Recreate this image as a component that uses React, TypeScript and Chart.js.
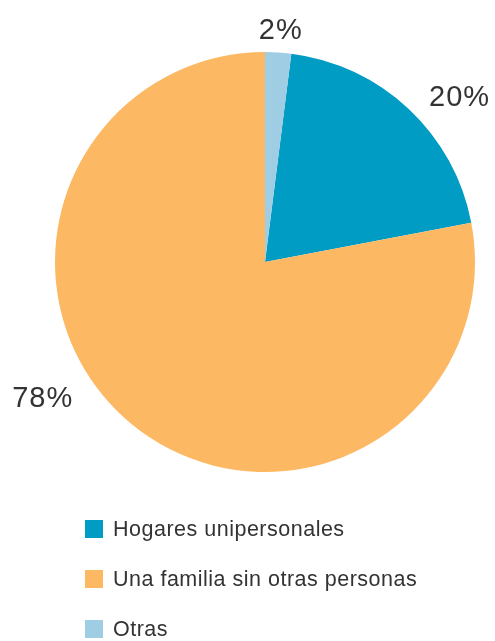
import React, { useEffect, useRef } from "react";
import { Chart, registerables } from "chart.js";

Chart.register(...registerables);

// Data (clockwise order starting just after the top)
const categories = ["Hogares unipersonales", "Una familia sin otras personas", "Otras"];
const values = [20, 78, 2];
const colors = ["#009CC4", "#FDB863", "#9FCDE3"];
const pctLabels = ["20%", "78%", "2%"];

// label placement: angle shift (deg) from slice middle, and distance as factor of radius
const labelShift = [6.5, 19, 0.3];
const labelDist = [1.215, 1.24, 1.105];

const pctPlugin = {
  id: "pctLabels",
  afterDraw(chart: any) {
    const ctx = chart.ctx;
    const meta = chart.getDatasetMeta(0);
    ctx.save();
    ctx.font = '29px "Liberation Sans", Arial, sans-serif';
    try { (ctx as any).letterSpacing = "1px"; } catch (e) {}
    ctx.fillStyle = "#333333";
    ctx.textAlign = "center";
    ctx.textBaseline = "middle";
    meta.data.forEach((arc: any, i: number) => {
      const mid = (arc.startAngle + arc.endAngle) / 2 + (labelShift[i] * Math.PI) / 180;
      const r = arc.outerRadius * labelDist[i];
      const x = arc.x + Math.cos(mid) * r;
      const y = arc.y + Math.sin(mid) * r + 1;
      ctx.fillText(pctLabels[i], x, y);
    });
    ctx.restore();
  },
};

export default function App() {
  const ref = useRef<HTMLCanvasElement>(null);
  useEffect(() => {
    if (!ref.current) return;
    const chart = new Chart(ref.current, {
      type: "pie",
      data: {
        labels: categories,
        datasets: [
          {
            data: values,
            backgroundColor: colors,
            borderWidth: 0,
          },
        ],
      },
      options: {
        animation: false,
        responsive: false,
        rotation: (values[2] / 100) * 360,
        layout: { padding: { top: 52, bottom: 169, left: 55, right: 20 } },
        plugins: {
          legend: { display: false },
          tooltip: { enabled: false },
        },
      },
      plugins: [pctPlugin],
    });
    return () => chart.destroy();
  }, []);

  return (
    <div style={{ position: "absolute", left: 0, top: 0, width: 495, height: 641, background: "#fff", overflow: "hidden" }}>
      <canvas ref={ref} width={495} height={641} style={{ position: "absolute", left: 0, top: 0 }} />
      <div style={{ position: "absolute", left: 85, top: 517, fontFamily: '"Liberation Sans", Arial, sans-serif', fontSize: 21.5, letterSpacing: "0.5px", color: "#333" }}>
        {categories.map((c, i) => (
          <div key={c} style={{ display: "flex", alignItems: "center", height: 24, marginBottom: i < categories.length - 1 ? 26 : 0 }}>
            <span style={{ display: "inline-block", width: 18, height: 18, background: colors[i], marginRight: 10 }} />
            <span style={{ lineHeight: "24px" }}>{c}</span>
          </div>
        ))}
      </div>
    </div>
  );
}
